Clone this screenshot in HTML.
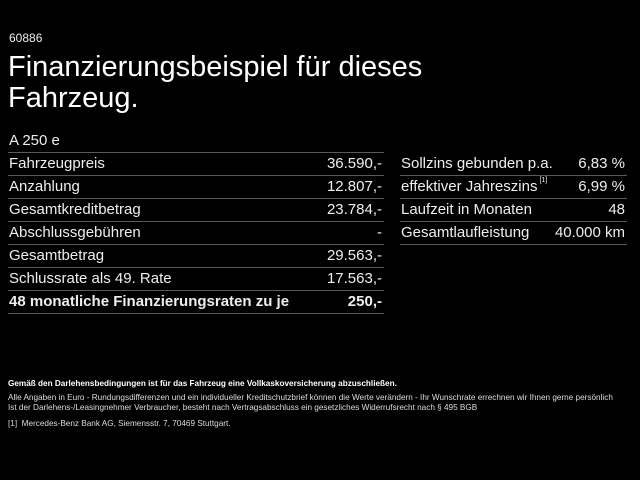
<!DOCTYPE html>
<html><head><meta charset="utf-8"><style>
body{margin:0;background:#000;width:640px;height:480px;overflow:hidden;font-family:"Liberation Sans",Arial,sans-serif;color:#fff;position:relative}
.a{position:absolute;white-space:nowrap}
.row{position:absolute;height:23px;border-bottom:1px solid #5a5a5a;font-size:15px;line-height:23px;color:#eee}
.row span{position:absolute}
.r{right:2px}
.l{left:1px}
sup{font-size:7px;vertical-align:top;line-height:12px;margin-left:2px}
.f{font-size:8.2px;color:#ddd}
</style></head><body>
<div class="a" style="left:9px;top:31px;font-size:12px;color:#eee">60886</div>
<div class="a" style="left:8px;top:52px;font-size:29px;line-height:31px;color:#fff">Finanzierungsbeispiel für dieses<br>Fahrzeug.</div>
<div class="row" style="left:8px;top:129px;width:376px"><span class="l">A 250 e</span></div>
<div class="row" style="left:8px;top:152px;width:376px"><span class="l">Fahrzeugpreis</span><span class="r">36.590,-</span></div>
<div class="row" style="left:8px;top:175px;width:376px"><span class="l">Anzahlung</span><span class="r">12.807,-</span></div>
<div class="row" style="left:8px;top:198px;width:376px"><span class="l">Gesamtkreditbetrag</span><span class="r">23.784,-</span></div>
<div class="row" style="left:8px;top:221px;width:376px"><span class="l">Abschlussgebühren</span><span class="r">-</span></div>
<div class="row" style="left:8px;top:244px;width:376px"><span class="l">Gesamtbetrag</span><span class="r">29.563,-</span></div>
<div class="row" style="left:8px;top:267px;width:376px"><span class="l">Schlussrate als 49. Rate</span><span class="r">17.563,-</span></div>
<div class="row" style="left:8px;top:290px;width:376px;font-weight:bold"><span class="l">48 monatliche Finanzierungsraten zu je</span><span class="r">250,-</span></div>
<div class="row" style="left:400px;top:152px;width:227px"><span class="l">Sollzins gebunden p.a.</span><span class="r">6,83 %</span></div>
<div class="row" style="left:400px;top:175px;width:227px"><span class="l">effektiver Jahreszins<sup>[1]</sup></span><span class="r">6,99 %</span></div>
<div class="row" style="left:400px;top:198px;width:227px"><span class="l">Laufzeit in Monaten</span><span class="r">48</span></div>
<div class="row" style="left:400px;top:221px;width:227px"><span class="l">Gesamtlaufleistung</span><span class="r">40.000 km</span></div>
<div class="a f" style="left:8px;top:379px;font-weight:bold;color:#fff">Gemäß den Darlehensbedingungen ist für das Fahrzeug eine Vollkaskoversicherung abzuschließen.</div>
<div class="a f" style="left:8px;top:393px">Alle Angaben in Euro - Rundungsdifferenzen und ein individueller Kreditschutzbrief können die Werte verändern - Ihr Wunschrate errechnen wir Ihnen gerne persönlich</div>
<div class="a f" style="left:8px;top:403px">Ist der Darlehens-/Leasingnehmer Verbraucher, besteht nach Vertragsabschluss ein gesetzliches Widerrufsrecht nach § 495 BGB</div>
<div class="a f" style="left:8px;top:419px">[1]&nbsp; Mercedes-Benz Bank AG, Siemensstr. 7, 70469 Stuttgart.</div>
</body></html>
